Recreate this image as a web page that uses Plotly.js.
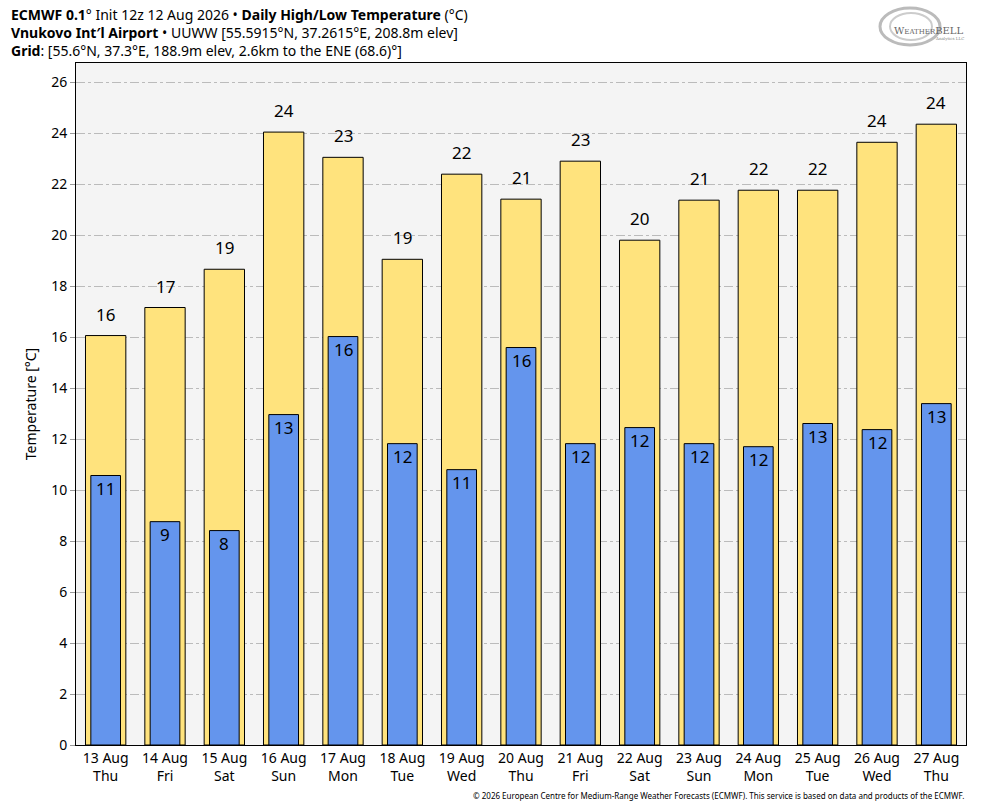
<!DOCTYPE html>
<html>
<head>
<meta charset="utf-8">
<script src="https://cdn.plot.ly/plotly-3.0.1.min.js"></script>
<style>html,body{margin:0;padding:0;background:#fff;}#chart{width:984px;height:808px;}</style>
</head>
<body>
<div id="chart"></div>
<script>
const dates = ["13 Aug","14 Aug","15 Aug","16 Aug","17 Aug","18 Aug","19 Aug","20 Aug","21 Aug","22 Aug","23 Aug","24 Aug","25 Aug","26 Aug","27 Aug"];
const weekdays = ["Thu","Fri","Sat","Sun","Mon","Tue","Wed","Thu","Fri","Sat","Sun","Mon","Tue","Wed","Thu"];
const highTemps = [16.06,17.16,18.66,24.04,23.05,19.05,22.39,21.41,22.90,19.80,21.37,21.76,21.76,23.64,24.35];
const lowTemps = [10.57,8.76,8.41,12.96,16.02,11.82,10.80,15.59,11.82,12.45,11.82,11.70,12.61,12.37,13.39];
const yTicks = [0,2,4,6,8,10,12,14,16,18,20,22,24,26];
const titleLines = [
  "<b>ECMWF 0.1</b>° Init 12z 12 Aug 2026 • <b>Daily High/Low Temperature</b> (°C)",
  "<b>Vnukovo Int′l Airport</b> • UUWW [55.5915°N, 37.2615°E, 208.8m elev]",
  "<b>Grid</b>: [55.6°N, 37.3°E, 188.9m elev, 2.6km to the ENE (68.6)°]"
];

const cats = dates.map((d,i)=>d+"<br>"+weekdays[i]);
const FONT = "Noto Sans, DejaVu Sans, sans-serif";
const L = 76, T = 63, PW = 890, PH = 682;
const px = x => (x - L) / PW;
const py = y => (T + PH - y) / PH;

const traces = [
  {type:"bar", x:cats, y:highTemps, width:0.68, marker:{color:"#FFE37D", line:{color:"#000", width:1}}, hoverinfo:"y", showlegend:false},
  {type:"bar", x:cats, y:lowTemps, width:0.5, marker:{color:"#6495ED", line:{color:"#000", width:1}}, hoverinfo:"y", showlegend:false}
];

const annotations = [];
highTemps.forEach((v,i)=>annotations.push({x:cats[i], y:v, xref:"x", yref:"y", text:String(Math.round(v)), showarrow:false, yanchor:"bottom", yshift:8, font:{size:17, color:"#000", family:FONT}}));
lowTemps.forEach((v,i)=>annotations.push({x:cats[i], y:v, xref:"x", yref:"y", text:String(Math.round(v)), showarrow:false, yanchor:"top", yshift:1, font:{size:17, color:"#000", family:FONT}}));
annotations.push({xref:"paper", yref:"paper", x:px(9), y:py(32), xanchor:"left", yanchor:"middle", align:"left", showarrow:false, text:titleLines.join("<br>"), font:{size:14, color:"#000", family:FONT}});
annotations.push({xref:"paper", yref:"paper", x:1, y:py(795), xanchor:"right", yanchor:"middle", showarrow:false,
  text:"© 2026 European Centre for Medium-Range Weather Forecasts (ECMWF). This service is based on data and products of the ECMWF.",
  font:{size:8, color:"#000", family:FONT}});
annotations.push({xref:"paper", yref:"paper", x:px(966), y:py(30), xanchor:"right", yanchor:"middle", showarrow:false,
  text:"W<span style='font-size:7px'>EATHER</span>BELL", font:{size:10, color:"#666", family:"DejaVu Serif, serif"}});
annotations.push({xref:"paper", yref:"paper", x:px(966), y:py(38), xanchor:"right", yanchor:"middle", showarrow:false,
  text:"Analytics LLC", font:{size:4, color:"#888", family:"DejaVu Serif, serif"}});

const shapes = [
  {type:"circle", xref:"paper", yref:"paper", x0:px(880), x1:px(940), y0:py(45), y1:py(8), line:{color:"#bbb", width:3}},
  {type:"circle", xref:"paper", yref:"paper", x0:px(890), x1:px(932), y0:py(40), y1:py(13), line:{color:"#ccc", width:2}}
];

const layout = {
  width:984, height:808,
  margin:{l:L, r:984-L-PW, t:T, b:808-T-PH},
  paper_bgcolor:"#fff", plot_bgcolor:"#F4F4F4",
  barmode:"overlay",
  font:{family:FONT, size:14, color:"#000"},
  xaxis:{type:"category", range:[-0.5,14.5], showline:true, linecolor:"#000", linewidth:1, mirror:true, ticks:"", showgrid:false, tickfont:{size:14}, fixedrange:true},
  yaxis:{range:[0,26.75], tickvals:yTicks, ticktext:yTicks.map(String), showline:true, linecolor:"#000", linewidth:1, mirror:true,
    ticks:"outside", ticklen:5, tickcolor:"#999", showgrid:true, gridcolor:"#BBBBBB", griddash:"dashdot", gridwidth:1, zeroline:false,
    tickfont:{size:14}, title:{text:"Temperature [°C]", font:{size:14}, standoff:11}},
  annotations:annotations,
  shapes:shapes
};

Plotly.newPlot("chart", traces, layout, {displayModeBar:false, staticPlot:true});
</script>
</body>
</html>
